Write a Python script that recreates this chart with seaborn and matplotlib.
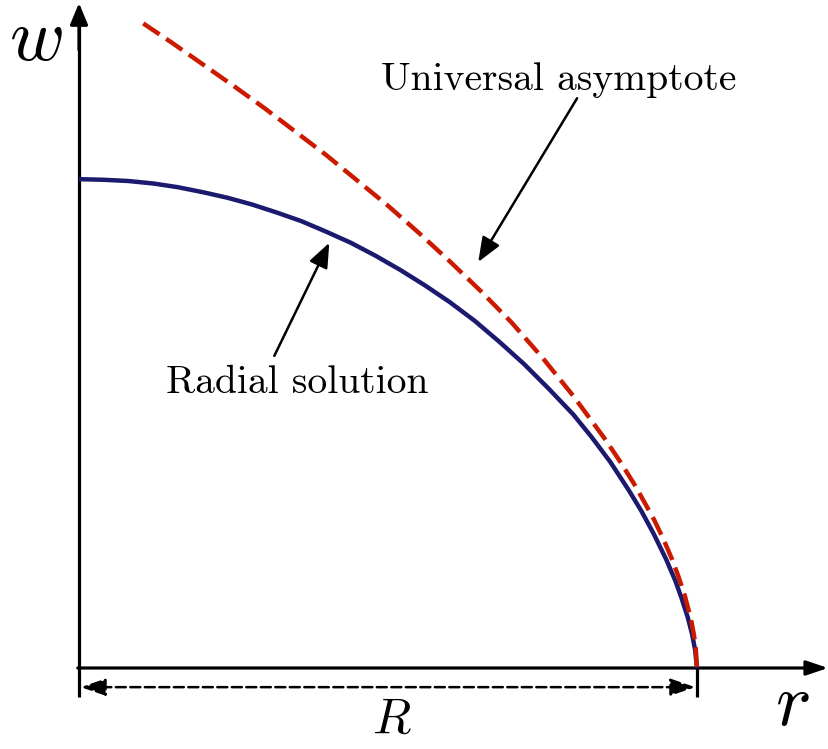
import matplotlib
matplotlib.use("Agg")
import matplotlib.pyplot as plt
import seaborn as sns
import numpy as np
import pandas as pd

# radial solution (r in units of R)
radial_r = [0.0, 0.04, 0.08, 0.12, 0.16, 0.20, 0.24, 0.28, 0.32, 0.36, 0.40, 0.44,
            0.48, 0.52, 0.56, 0.60, 0.64, 0.68, 0.72, 0.76, 0.80, 0.83, 0.86, 0.89,
            0.91, 0.93, 0.95, 0.965, 0.975, 0.985, 0.992, 0.997, 1.0]
radial_w = [0.791, 0.790, 0.788, 0.784, 0.778, 0.770, 0.761, 0.750, 0.737, 0.723, 0.706, 0.688,
            0.667, 0.644, 0.619, 0.592, 0.562, 0.528, 0.492, 0.452, 0.410, 0.373, 0.333, 0.287,
            0.254, 0.217, 0.176, 0.141, 0.113, 0.082, 0.055, 0.029, 0.0]

# universal asymptote
asym_r = [0.104, 0.15, 0.20, 0.25, 0.30, 0.35, 0.40, 0.45, 0.50, 0.55, 0.60,
          0.65, 0.70, 0.75, 0.80, 0.85, 0.875, 0.90, 0.93, 0.945, 0.96, 0.97,
          0.98, 0.99, 0.995, 0.998, 1.0]
asym_w = [1.043, 1.012, 0.977, 0.942, 0.906, 0.868, 0.830, 0.789, 0.748, 0.704, 0.658,
          0.610, 0.559, 0.502, 0.440, 0.372, 0.335, 0.295, 0.241, 0.210, 0.175, 0.148,
          0.118, 0.080, 0.054, 0.032, 0.0]

labels = {"radial": "Radial solution", "asym": "Universal asymptote"}

sns.set_style("white")
plt.rcParams["font.family"] = ["cmr10", "DejaVu Sans"]
plt.rcParams["mathtext.fontset"] = "cm"
plt.rcParams["axes.formatter.use_mathtext"] = True
plt.rcParams["text.color"] = "black"

fig = plt.figure(figsize=(8.29, 7.49), dpi=100)
ax = fig.add_axes([0, 0, 1, 1])
ax.set_xlim(-79 / 618, 750 / 618)
ax.set_ylim(-81 / 618, 668 / 618)
ax.axis("off")

df_rad = pd.DataFrame({"r": radial_r, "w": radial_w})
df_asy = pd.DataFrame({"r": asym_r, "w": asym_w})

sns.lineplot(data=df_rad, x="r", y="w", sort=False, estimator=None, ax=ax,
             color="#1b1a6e", lw=3.2, solid_capstyle="butt", zorder=3)
sns.lineplot(data=df_asy, x="r", y="w", sort=False, estimator=None, ax=ax,
             color="#cc1a00", lw=3.2, linestyle=(0, (4.4, 1.8)), zorder=4)

# coordinate axes
ax.plot([0, 0], [-0.047, 1.05], color="black", lw=2.3, solid_capstyle="butt", zorder=2)
ax.plot([1, 1], [-0.047, 0], color="black", lw=2.3, solid_capstyle="butt", zorder=2)
ax.annotate("", xy=(0, 1.076), xytext=(0, 1.0),
            arrowprops=dict(arrowstyle="-|>,head_length=0.65,head_width=0.27",
                            mutation_scale=20, lw=2.3, color="black",
                            shrinkA=0, shrinkB=0))
ax.annotate("", xy=(1.212, 0), xytext=(-0.002, 0),
            arrowprops=dict(arrowstyle="-|>,head_length=0.65,head_width=0.22",
                            mutation_scale=20, lw=2.3, color="black",
                            shrinkA=0, shrinkB=0), zorder=2)
ax.annotate("", xy=(0.003, -0.031), xytext=(0.997, -0.031),
            arrowprops=dict(arrowstyle="<|-|>,head_length=0.75,head_width=0.26",
                            mutation_scale=20, lw=1.8, color="black", ls=(0, (4.0, 1.8)),
                            shrinkA=0, shrinkB=0))

ax.text(-0.0696, 0.984, "$w$", fontsize=54, ha="center", va="baseline", color="black")
ax.text(1.154, -0.092, "$r$", fontsize=54, ha="center", va="baseline", color="black")
ax.text(0.506, -0.105, "$R$", fontsize=36, ha="center", va="baseline", color="black")

# labels with arrows
ax.text(0.777, 0.935, labels["asym"], fontsize=28.5, ha="center", va="baseline", color="black")
ax.annotate("", xy=(0.646, 0.657), xytext=(0.806, 0.922),
            arrowprops=dict(arrowstyle="-|>,head_length=0.75,head_width=0.3",
                            mutation_scale=20, lw=1.8, color="black",
                            shrinkA=0, shrinkB=0))
ax.text(0.353, 0.445, labels["radial"], fontsize=28.5, ha="center", va="baseline", color="black")
ax.annotate("", xy=(0.405, 0.688), xytext=(0.316, 0.505),
            arrowprops=dict(arrowstyle="-|>,head_length=0.75,head_width=0.3",
                            mutation_scale=20, lw=1.8, color="black",
                            shrinkA=0, shrinkB=0))

fig.savefig("out.png", dpi=100)
